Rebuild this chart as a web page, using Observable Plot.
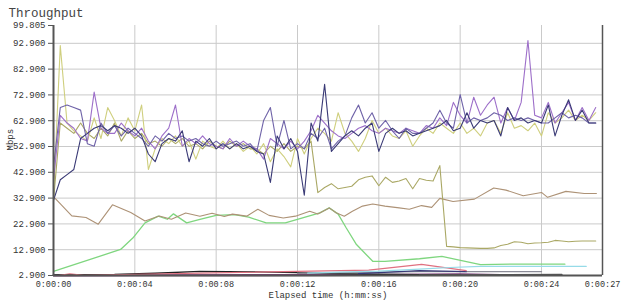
<!DOCTYPE html>
<html><head><meta charset="utf-8">
<script src="https://cdn.jsdelivr.net/npm/d3@7"></script>
<script src="https://cdn.jsdelivr.net/npm/@observablehq/plot@0.6"></script>
<style>html,body{margin:0;padding:0;background:#fff;}</style>
</head><body><div id="chart"></div>
<script>
// ---- axis ticks ----
const yTicks = [2.9, 12.9, 22.9, 32.9, 42.9, 52.9, 62.9, 72.9, 82.9, 92.9, 99.805];
const yGrid = [12.9, 22.9, 32.9, 42.9, 52.9, 62.9, 72.9, 82.9, 92.9];
const xTicks = [0, 4, 8, 12, 16, 20, 24, 27];
const xGrid = [4, 8, 12, 16, 20, 24];

// ---- upper series: one sample every 1/3 s, index 0..80 ----
const sampleStep = 1 / 3;
const yellowVals = [33,92,62,59,57,55,64,56,68,63, 57,64,59,69,44,52,56,54,57,53, 55,48,55,53,52,55,52,54,51,53, 50,54,47,52,49,45,56,50,56,60, 58,55,66,58,55,51,56,63,58,60, 57,56,59,53,57,60,58,62,60,58, 62,58,60,57,62,63,58,66,60,61, 59,62,57,66,62,64,67,63,65,63, 66];
const oliveVals = [32,62,60,58,62,58,56,60,57,62, 55,59,56,58,54,55,53,56,54,56, 53,54,52,55,53,52,55,53,54,52, 52,50,53,51,54,51,53,52,55,35, 37,38.5,36.5,37,37.5,40,41,41.5,37.7,41, 39,39.5,40.5,36.5,40.5,39.8,39.5,45.5,14.2,14, 13.7,13.6,13.5,13.4,13.4,13.6,14.5,15,16,15.8, 15.2,15.5,15.6,15.8,16.5,16.3,16,16.2,16.3,16.3, 16.3];
const purpleVals = [40,65,62,60,56,55,74,60,58,58, 62,59,57,60,55,52,57,60,69,53, 56,54,57,54,53,52,56,53,55,53, 52,48,56,54,52,55,52,55,59,65, 62,59,57,56,58,60,61,59,58,60, 59,58,60,59,58,61,60,64,61,70, 65,62,72,65,69,72,62,68,63,70, 94,65,64,70,62,66,70,63,68,63, 68];
const violetVals = [45,68,69,68,67,54,53,62,58,61, 57,60,58,56,53,57,55,58,56,57, 55,56,54,53,55,53,54,55,53,54, 51,63,68,53,63,52,54,52,58,56, 60,52,55,57,64,69,62,66,60,63, 59,56,60,58,58,60,62,67,62,60, 73,62,64,63,64,66,65,63,64,63, 64,63,62,62,64,66,64,65,64,62, 62];
const navyVals = [32,40,42,44,56,58,60,61,59,61, 60,58,60,57,50,47,54,56,55,59, 47,55,53,56,52,54,52,54,52,53, 51,50,39,57,52,56,51,34,62,55, 77,51,54,57,59,57,60,62,51,58, 60,58,59,57,58,59,60,61,63,59, 60,66,60,63,62,63,57,68,63,64, 62,63,62,69,57,65,71,63,67,62, 62];

// ---- lower series (time in s, value in Mbps) ----
const brownT = [0,0.9,1.6,2.2,2.9,3.8,4.5,5.2,5.8,6.5,7.2,7.8,8.4,8.8,9.5,10.05,10.6,11.3,11.9,12.6,13.0,13.56,13.9,14.3,14.7,15.2,15.7,16.3,17.0,17.5,18.1,18.6,19.0,19.65,20.7,21.65,22.25,23.1,24.0,24.3,25.2,26.1,26.7];
const brownV = [33.5,26,25.4,22.8,30.3,27.3,24,26,24.7,27.1,25.9,27,25.8,26.7,25.9,28.6,26.2,25.2,25.9,27.8,26.7,29.1,27.2,25.9,27.8,29.8,30.6,29.8,29.1,28.6,30,29.3,32.8,31.6,32.5,36.8,36,33.8,35.1,33.2,35.5,34.7,34.7];
const greenT = [0,3.3,3.9,4.5,5.15,5.6,5.9,6.55,7.2,8.0,8.9,9.6,10.46,11.4,12.25,13.1,13.56,14.0,14.4,14.9,15.7,16.3,18.0,19.1,19.9,21.0,22.5,25.15];
const greenV = [4.5,13,17.4,23.3,25.9,24.7,26.8,23.3,24.7,26.2,26.5,25.5,23.3,23.3,25.2,27.2,29.1,26.7,21.3,14.9,8.4,8.4,9.4,10.3,9,7.1,7.3,7.3];
const cyanT = [12.5,14,16,18,19.5,21,23,26.2];
const cyanV = [3.8,4.2,4.6,5.4,6.0,6.4,6.4,6.4];
const redT = [0.3,0.8,1.5,15.5,18.1,20.3];
const redV = [3.0,3.6,3.0,5.0,7.2,4.8];
const blackT = [0,3,5,7.2,10,12,14,17,20];
const blackV = [3.1,3.3,3.8,4.5,4.3,4.0,3.6,3.3,3.0];
const magentaT = [0,5,10,15,20,22];
const magentaV = [2.95,3.0,3.05,3.1,3.3,3.1];
const grayT = [12,16,18,20.3,24.0];
const grayV = [3.8,4.2,4.4,4.4,4.4];
const darkGrayT = [18,22,25];
const darkGrayV = [3.0,3.2,3.3];
const darkBlueT = [15,18,20.3];
const darkBlueV = [3.6,4.8,4.4];

const fmtTime = s => "0:00:" + String(s).padStart(2, "0");
const upperRows = vals => vals.map((v, i) => ({t: i * sampleStep, v}));
const rows = (ts, vs) => ts.map((t, i) => ({t, v: vs[i]}));
const line = (data, stroke, strokeWidth = 1) =>
  Plot.line(data, {x: "t", y: "v", stroke, strokeWidth});

const chart = Plot.plot({
  width: 640, height: 305,
  marginLeft: 53, marginRight: 38, marginTop: 25, marginBottom: 30,
  style: {fontFamily: "'Liberation Mono', monospace", background: "#fff", color: "#333"},
  x: {domain: [0, 27]},
  y: {domain: [2.9, 99.805]},
  marks: [
    Plot.gridY(yGrid, {stroke: "#cacaca", strokeOpacity: 1}),
    Plot.gridX(xGrid, {stroke: "#cacaca", strokeOpacity: 1}),
    line(rows(magentaT, magentaV), "#7d3a78", 2.2),
    line(rows(blackT, blackV), "#222", 1.4),
    line(rows(grayT, grayV), "#8a8a96", 1.4),
    line(rows(darkGrayT, darkGrayV), "#555", 1.6),
    line(rows(darkBlueT, darkBlueV), "#3a3a78", 1.2),
    line(rows(redT, redV), "#e07080", 1.1),
    line(rows(cyanT, cyanV), "#96dbe8", 1.2),
    line(rows(greenT, greenV), "#7fd67f", 1.3),
    line(rows(brownT, brownV), "#ad9276", 1.1),
    line(upperRows(oliveVals), "#aaa865", 1.1),
    line(upperRows(yellowVals), "#cfcf7e", 1.1),
    line(upperRows(purpleVals), "#9d6fc9", 1.1),
    line(upperRows(violetVals), "#6f63a8", 1.1),
    line(upperRows(navyVals), "#3a3a76", 1.1),
    Plot.ruleX([0], {stroke: "#555", strokeWidth: 2}),
    Plot.ruleX([27], {stroke: "#555", strokeWidth: 1.5}),
    Plot.ruleY([2.9], {stroke: "#555", strokeWidth: 2}),
    Plot.axisY(yTicks, {tickFormat: d3.format(".3f"), tickSize: 5, tickPadding: 3, fontSize: 9, label: null, stroke: "#555"}),
    Plot.axisX(xTicks, {tickFormat: fmtTime, tickSize: 0, tickPadding: 5, fontSize: 8.5, label: null}),
    Plot.text(["Throughput"], {frameAnchor: "top-left", dx: -45, dy: -17, textAnchor: "start", fontSize: 12.5, fill: "#444"}),
    Plot.text(["Mbps"], {frameAnchor: "left", dx: -43, rotate: -90, fontSize: 9, fill: "#333"}),
    Plot.text(["Elapsed time (h:mm:ss)"], {frameAnchor: "bottom", dy: 22, fontSize: 9, fill: "#333"})
  ]
});
document.getElementById("chart").appendChild(chart);
</script></body></html>
